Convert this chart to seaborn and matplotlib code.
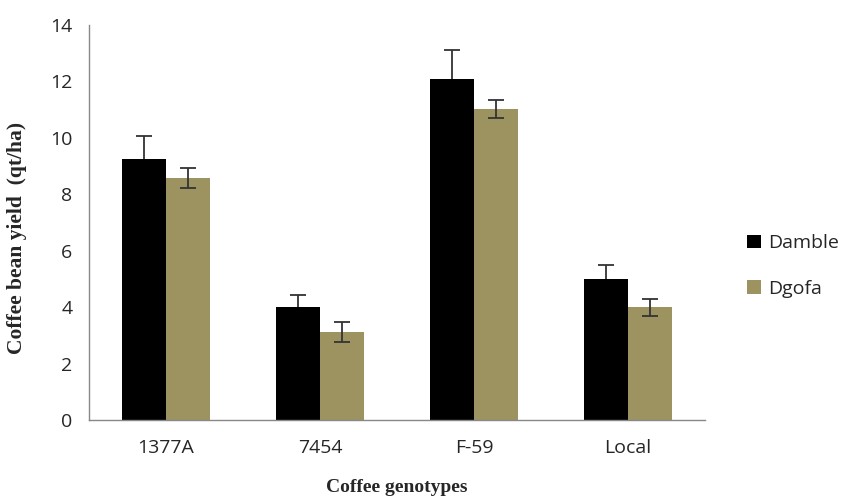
import pandas as pd
import matplotlib.pyplot as plt
import seaborn as sns

genotypes = ["1377A", "7454", "F-59", "Local"]
locations = ["Damble", "Dgofa"]
damble_yield = [9.25, 4.0, 12.1, 5.0]
dgofa_yield = [8.58, 3.12, 11.03, 4.0]
damble_err = [0.8, 0.42, 1.0, 0.5]
dgofa_err = [0.36, 0.36, 0.32, 0.3]

records = []
for i, g in enumerate(genotypes):
    records.append({"Genotype": g, "Location": "Damble", "Yield": damble_yield[i], "Err": damble_err[i]})
    records.append({"Genotype": g, "Location": "Dgofa", "Yield": dgofa_yield[i], "Err": dgofa_err[i]})
df = pd.DataFrame(records)

sns.set_style("white")
plt.rcParams['font.family'] = ['Open Sans', 'DejaVu Sans']

fig = plt.figure(figsize=(8.43, 5), dpi=100)
ax = fig.add_axes([0.1056, 0.16, 0.7307, 0.79])

colors = {"Damble": "#000000", "Dgofa": "#9c9360"}
sns.barplot(data=df, x="Genotype", y="Yield", hue="Location", hue_order=locations,
            order=genotypes, palette=colors, width=0.57, errorbar=None,
            saturation=1, linewidth=0, ax=ax, legend=True, zorder=2)

# error bars on bar centers; the Damble ones sit behind the black bars
for cont, loc in zip(ax.containers, locations):
    sub = df[df["Location"] == loc].set_index("Genotype").loc[genotypes]
    xs = [p.get_x() + p.get_width() / 2 for p in cont.patches]
    z = 1 if loc == "Damble" else 5
    ax.errorbar(xs, sub["Yield"], yerr=sub["Err"], fmt="none", ecolor="#333333",
                elinewidth=1.3, capsize=6, capthick=1.3, zorder=z)

ax.set_ylim(0, 14)
ax.set_xlim(-0.5, 3.5)
ax.set_yticks(range(0, 15, 2))
ax.set_xticks([0, 1, 2, 3])
ax.set_xticks([-0.5, 0.5, 1.5, 2.5, 3.5], minor=True)
ax.tick_params(axis="x", which="major", length=0, labelsize=14, pad=14)
ax.tick_params(axis="x", which="minor", length=6, color="#888888", direction="out")
ax.tick_params(axis="y", length=6, color="#888888", direction="out", labelsize=14, pad=6)
for s in ["top", "right"]:
    ax.spines[s].set_visible(False)
for s in ["left", "bottom"]:
    ax.spines[s].set_color("#888888")
    ax.spines[s].set_linewidth(1)

ax.set_xlabel("Coffee genotypes", fontsize=14, fontweight="bold", family="Liberation Serif")
ax.set_ylabel("Coffee bean yield  (qt/ha)", fontsize=15.5, fontweight="bold", family="Liberation Serif")
ax.xaxis.set_label_coords(0.5, -0.15)
ax.yaxis.set_label_coords(-0.10, 0.46)

ax.legend(loc="center left", bbox_to_anchor=(1.04, 0.39), frameon=False, fontsize=14,
          handlelength=0.7, handleheight=0.7, labelspacing=1.4, handletextpad=0.4)

fig.savefig("out.png", dpi=100)
